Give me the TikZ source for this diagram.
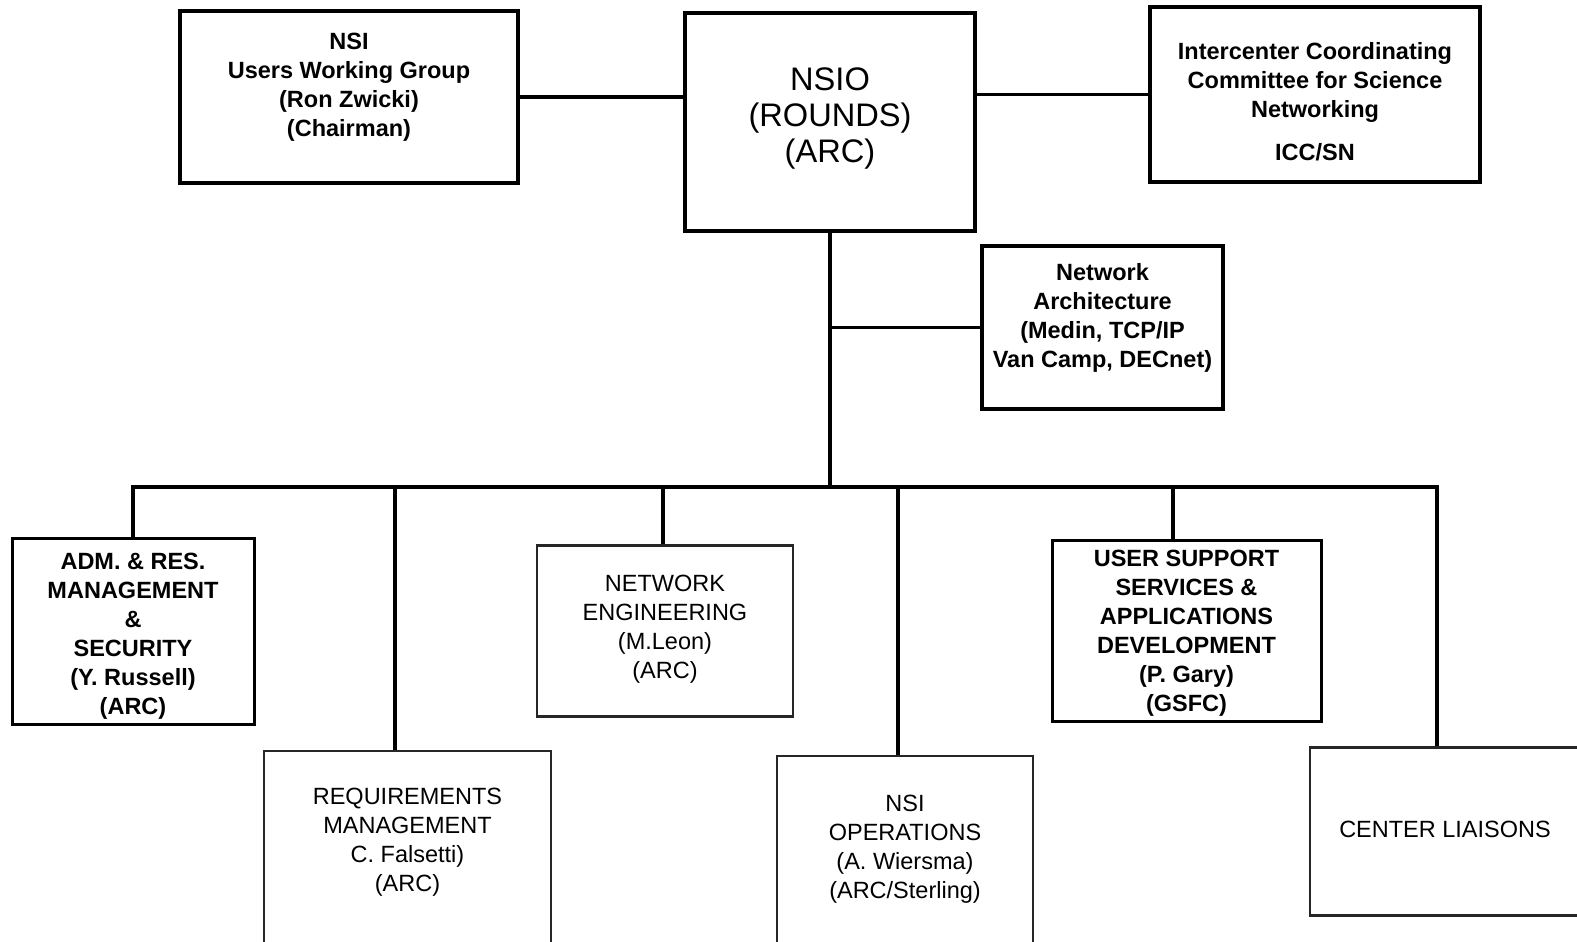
\documentclass[tikz,border=0pt]{standalone}
\usepackage{fontspec}
\setmainfont{Liberation Sans}
\usetikzlibrary{positioning}

\begin{document}
\begin{tikzpicture}[on grid,
  box/.style={draw, line width=2pt, align=center, inner sep=0pt,
    font=\bfseries\fontsize{11.75pt}{14.5pt}\selectfont},
  unitbox/.style={box, line width=1.5pt},
  lightbox/.style={box, line width=1.2pt, draw=black!85,
    font=\fontsize{11.75pt}{14.5pt}\selectfont},
  link/.style={line width=1.6pt}]
	\useasboundingbox (0,0) rectangle (788.5pt,-470.5pt);
	\clip (0,0) rectangle (788.5pt,-470.5pt);
	% top row
	\node[box, minimum width=145pt, text height=74.85pt, text depth=34.15pt,
	  font=\fontsize{16.3pt}{18pt}\selectfont] (nsio) at (415pt,-61pt) {NSIO\\(ROUNDS)\\(ARC)};
	\node[box, minimum width=169pt, text height=63pt, text depth=23pt] (uwg) [above left=12.5pt and 240.5pt of nsio]
	  {NSI\\Users Working Group\\(Ron Zwicki)\\(Chairman)};
	\node[box, minimum width=165pt, text height=76.7pt, text depth=10.8pt] (icc) [above right=13.75pt and 242.5pt of nsio]
	  {Intercenter Coordinating\\Committee for Science\\Networking\\[7pt]ICC/SN};
	\node[box, minimum width=120.5pt, text height=60.7pt, text depth=20.8pt] (arch) [below right=102.75pt and 136.25pt of nsio]
	  {Network\\Architecture\\(Medin, TCP/IP\\Van Camp, DECnet)};
	% bottom rows
	\node[unitbox, minimum width=121pt, text height=88.2pt, text depth=4.8pt] (adm) [below left=254.5pt and 348.5pt of nsio]
	  {ADM. \& RES.\\MANAGEMENT\\\&\\SECURITY\\(Y. Russell)\\(ARC)};
	\node[lightbox, minimum width=128pt, text height=66.7pt, text depth=18.8pt] (ne) [right=266pt of adm]
	  {NETWORK\\ENGINEERING\\(M.Leon)\\(ARC)};
	\node[unitbox, minimum width=134.5pt, text height=85.5pt, text depth=5pt] (uss) [right=260.75pt of ne]
	  {USER SUPPORT\\SERVICES \&\\APPLICATIONS\\DEVELOPMENT\\(P. Gary)\\(GSFC)};
	\node[lightbox, minimum width=135pt, text height=45.2pt, text depth=38.8pt] (cl) [below right=100.25pt and 129.25pt of uss]
	  {CENTER LIAISONS};
	\node[lightbox, minimum width=143.5pt, text height=70pt, text depth=80pt, anchor=north] (req)
	  at (203.75pt,-375pt) {REQUIREMENTS\\MANAGEMENT\\C. Falsetti)\\(ARC)};
	\node[lightbox, minimum width=128pt, text height=71.2pt, text depth=80pt, anchor=north] (ops)
	  at (452.5pt,-377.5pt) {NSI\\OPERATIONS\\(A. Wiersma)\\(ARC/Sterling)};
	% connectors
	\coordinate (bus) at ([yshift=-127pt]nsio.south);
	\draw[link] (uwg.east) -- (uwg.east -| nsio.west);
	\draw[link] (icc.west) -- (icc.west -| nsio.east);
	\draw[link] (nsio.south) -- (bus);
	\draw[link] (arch.west) -- (arch.west -| nsio.south);
	\draw[link] (adm.north) |- ([xshift=-4pt]cl.north |- bus) -- ([xshift=-4pt]cl.north);
	\draw[link] ([xshift=-6.25pt]req.north) -- ([xshift=-6.25pt]req.north |- bus);
	\draw[link] ([xshift=-1pt]ne.north) -- ([xshift=-1pt]ne.north |- bus);
	\draw[link] ([xshift=-3.5pt]ops.north) -- ([xshift=-3.5pt]ops.north |- bus);
	\draw[link] ([xshift=-6.75pt]uss.north) -- ([xshift=-6.75pt]uss.north |- bus);
\end{tikzpicture}
\end{document}
